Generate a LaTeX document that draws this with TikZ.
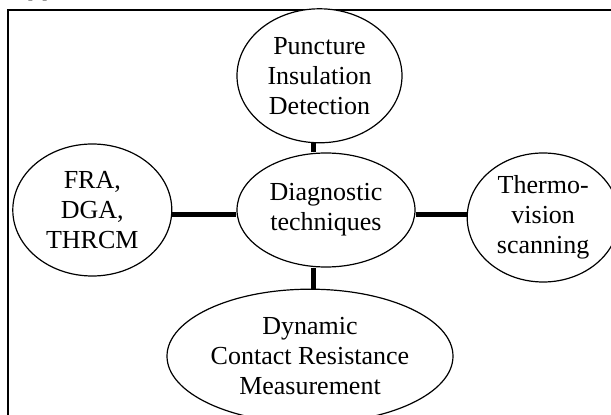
\documentclass[tikz,border=0pt]{standalone}
\usepackage{fontspec}
\setmainfont{Liberation Serif}
\usetikzlibrary{positioning,shapes.geometric}

\begin{document}
\begin{tikzpicture}[
  x=1pt, y=1pt,
  oval/.style={draw, ellipse, line width=1.2pt, fill=white, inner sep=0pt,
               align=center, font=\fontsize{26}{30}\selectfont},
  conn/.style={line width=5pt}
]
  \useasboundingbox (0,0) rectangle (611,415);
  % frame, cut by the page
  \draw[line width=1.5pt] (8,-30) -- (8,405) -- (640,405);
  \node[anchor=base west, inner sep=0pt, font=\fontsize{18}{22}\selectfont]
    (cite) at (27,416) {[6].};

  \node[oval, minimum width=178pt, minimum height=114pt] (diag) at (326,205)
    {Diagnostic\\techniques};
  \node[oval, minimum width=165pt, minimum height=134pt,
        above=9pt of diag, xshift=-6.5pt] (punct)
    {Puncture\\Insulation\\Detection};
  \node[oval, minimum width=159pt, minimum height=132pt,
        left=64pt of diag] (fra) {FRA,\\DGA,\\THRCM};
  \node[oval, minimum width=152pt, minimum height=129pt,
        right=51pt of diag, yshift=-7.5pt] (thermo)
    {Thermo-\\vision\\scanning};
  \node[oval, minimum width=286pt, minimum height=134pt,
        below=21pt of diag, xshift=-16pt] (dcrm)
    {Dynamic\\Contact Resistance\\Measurement};

  \draw[conn] ([yshift=-5pt]fra.east) -- ([yshift=-5pt]diag.west);
  \draw[conn] ([yshift=-5pt]diag.east) -- ([yshift=2.5pt]thermo.west);
  \draw[conn] ([xshift=-12.5pt]diag.north) -- ([xshift=-6pt]punct.south);
  \draw[conn] ([xshift=-12.5pt]diag.south) -- ([xshift=3.5pt]dcrm.north);
\end{tikzpicture}
\end{document}
